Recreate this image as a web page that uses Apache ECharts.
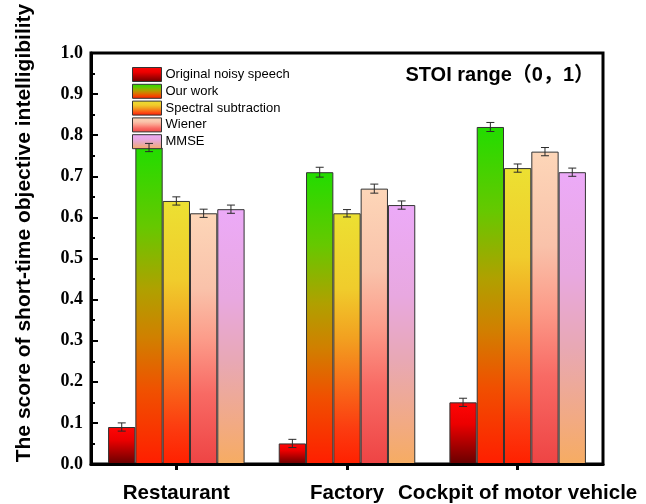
<!DOCTYPE html>
<html>
<head>
<meta charset="utf-8">
<script src="https://cdn.jsdelivr.net/npm/echarts@6/dist/echarts.min.js"></script>
<style>
  html, body { margin: 0; padding: 0; background: #ffffff; }
  #chart { width: 646px; height: 504px; }
</style>
</head>
<body>
<div id="chart"></div>
<script>
// Noise environments (x categories)
const categories = ['Restaurant', 'Factory', 'Cockpit of motor vehicle'];

// Methods compared
const methodNames = ['Original noisy speech', 'Our work', 'Spectral subtraction', 'Wiener', 'MMSE'];

// STOI scores per method, one value per environment
const originalScores = [0.09, 0.05, 0.15];
const ourWorkScores  = [0.77, 0.71, 0.82];
const spectralScores = [0.64, 0.61, 0.72];
const wienerScores   = [0.61, 0.67, 0.76];
const mmseScores     = [0.62, 0.63, 0.71];

// Standard deviation (error bar half-length) per method and environment
const originalErr = [0.01, 0.01, 0.01];
const ourWorkErr  = [0.01, 0.012, 0.011];
const spectralErr = [0.01, 0.009, 0.01];
const wienerErr   = [0.01, 0.011, 0.01];
const mmseErr     = [0.01, 0.01, 0.01];

// Y-axis tick values
const yTicks = [0.0, 0.1, 0.2, 0.3, 0.4, 0.5, 0.6, 0.7, 0.8, 0.9, 1.0];

const scores = [originalScores, ourWorkScores, spectralScores, wienerScores, mmseScores];
const errors = [originalErr, ourWorkErr, spectralErr, wienerErr, mmseErr];

// Vertical gradient fills, top (offset 0) to bottom (offset 1)
function grad(stops) {
  return new echarts.graphic.LinearGradient(0, 0, 0, 1,
    stops.map(s => ({ offset: s[0], color: s[1] })));
}
const fills = [
  grad([[0, '#ff0606'], [0.35, '#ec0000'], [1, '#680000']]),
  grad([[0, '#22dc00'], [0.25, '#66c800'], [0.45, '#b0a000'], [0.6, '#d08000'], [0.77, '#f05000'], [1, '#ff1e00']]),
  grad([[0, '#ece032'], [0.3, '#f0cc2c'], [0.5, '#f2a020'], [0.7, '#f86818'], [0.86, '#fc3c10'], [1, '#ff2000']]),
  grad([[0, '#fdd6b8'], [0.3, '#f9c2aa'], [0.5, '#fc9c8a'], [0.72, '#f86a64'], [1, '#ee4444']]),
  grad([[0, '#ecaaf8'], [0.35, '#e8a8e0'], [0.6, '#e8a8b4'], [0.85, '#f2aa82'], [1, '#f6ac62']])
];

const BAR_CATEGORY_GAP = 0.2;
const nMethods = methodNames.length;

const barSeries = methodNames.map((name, i) => ({
  name: name,
  type: 'bar',
  data: scores[i],
  barGap: '0%',
  barCategoryGap: (BAR_CATEGORY_GAP * 100) + '%',
  itemStyle: { color: fills[i], borderColor: '#333', borderWidth: 1 },
  z: 2
}));

// Error bars drawn next to each bar of the group
const errorSeries = methodNames.map((name, i) => ({
  type: 'custom',
  z: 4,
  silent: true,
  data: scores[i].map((v, k) => [k, v, errors[i][k]]),
  renderItem: function (params, api) {
    const k = api.value(0), v = api.value(1), e = api.value(2);
    const hi = api.coord([k, v + e]);
    const lo = api.coord([k, v - e]);
    const band = api.size([1, 0])[0];
    const bw = band * (1 - BAR_CATEGORY_GAP) / nMethods;
    const cx = hi[0] + (i - (nMethods - 1) / 2) * bw;
    const cap = 4;
    const style = { stroke: '#2a2a2a', lineWidth: 1 };
    return {
      type: 'group',
      children: [
        { type: 'line', shape: { x1: cx, y1: hi[1], x2: cx, y2: lo[1] }, style: style },
        { type: 'line', shape: { x1: cx - cap, y1: hi[1], x2: cx + cap, y2: hi[1] }, style: style },
        { type: 'line', shape: { x1: cx - cap, y1: lo[1], x2: cx + cap, y2: lo[1] }, style: style }
      ]
    };
  }
}));

const chart = echarts.init(document.getElementById('chart'), null, { renderer: 'canvas' });

chart.setOption({
  backgroundColor: '#ffffff',
  animation: false,
  grid: {
    left: 91, right: 43, top: 53, bottom: 38,
    show: true, borderColor: '#000', borderWidth: 3, backgroundColor: 'transparent'
  },
  legend: {
    orient: 'vertical',
    left: 127, top: 62,
    icon: 'rect',
    itemWidth: 29, itemHeight: 14, itemGap: 1.8,
    data: methodNames,
    itemStyle: { borderColor: '#333', borderWidth: 1 },
    textStyle: { fontFamily: 'Liberation Sans, Arial, sans-serif', fontSize: 13, color: '#000', padding: [0, 0, 0, -1] }
  },
  xAxis: {
    type: 'category',
    data: categories,
    z: 5,
    axisLine: { lineStyle: { color: '#000', width: 3 } },
    axisTick: { show: true, alignWithLabel: true, inside: false, length: 6, lineStyle: { color: '#000', width: 3 } },
    axisLabel: {
      margin: 19, color: '#000', fontWeight: 'bold', fontSize: 20.5,
      fontFamily: 'Liberation Sans, Arial, sans-serif', interval: 0
    }
  },
  yAxis: {
    type: 'value',
    min: yTicks[0], max: yTicks[yTicks.length - 1], interval: 0.1,
    z: 5,
    axisLine: { show: true, lineStyle: { color: '#000', width: 3 } },
    axisTick: { show: true, inside: true, length: 7, lineStyle: { color: '#000', width: 2 } },
    minorTick: { show: true, splitNumber: 2, length: 4, lineStyle: { color: '#000', width: 2 } },
    splitLine: { show: false },
    axisLabel: {
      margin: 8, color: '#000', fontWeight: 'bold', fontSize: 18,
      fontFamily: 'Liberation Serif, Times New Roman, serif',
      formatter: v => v.toFixed(1)
    }
  },
  graphic: [
    {
      type: 'text',
      x: 24, y: 233, rotation: Math.PI / 2,
      style: {
        text: 'The score of short-time objective intelligibility',
        fontFamily: 'Liberation Sans, Arial, sans-serif', fontWeight: 'bold', fontSize: 21,
        fill: '#000', textAlign: 'center', textVerticalAlign: 'middle'
      }
    },
    {
      type: 'text',
      x: 594, y: 75,
      style: {
        text: 'STOI range（0，1）',
        fontFamily: 'Liberation Sans, Arial, "Noto Sans CJK SC", sans-serif', fontWeight: 'bold', fontSize: 20,
        fill: '#000', textAlign: 'right', textVerticalAlign: 'middle'
      }
    }
  ],
  series: barSeries.concat(errorSeries)
});
</script>
</body>
</html>
